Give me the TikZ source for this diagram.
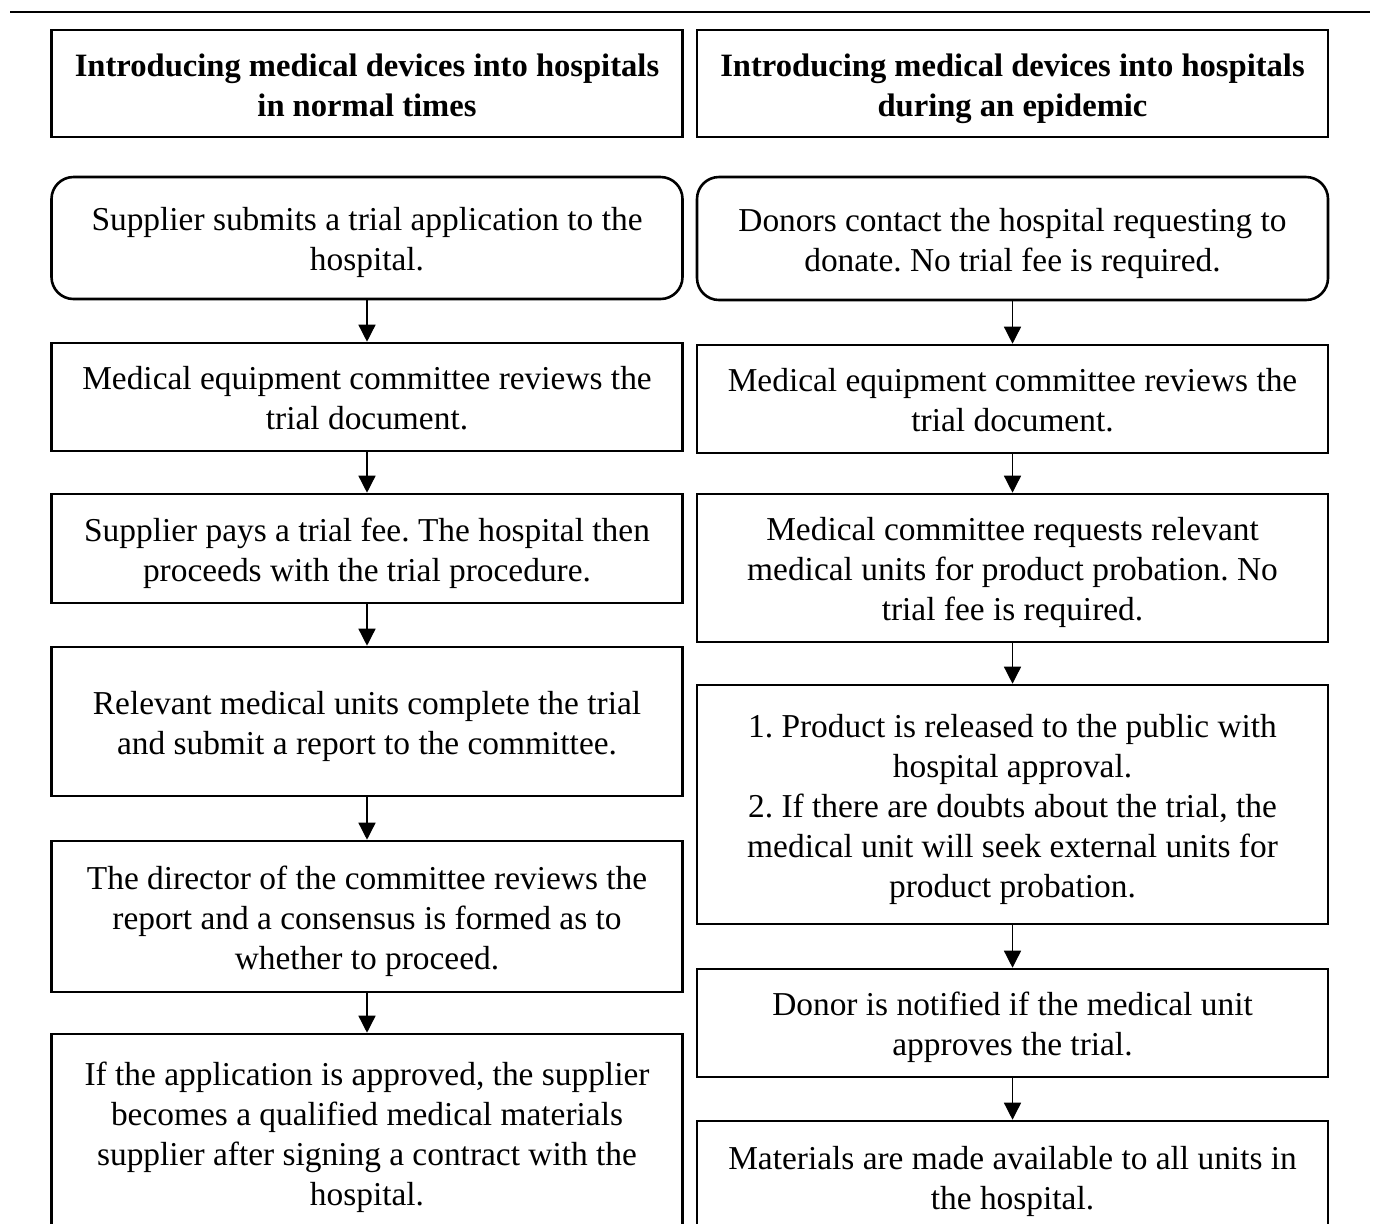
\documentclass[tikz,border=0pt]{standalone}
\usepackage{fontspec}
\setmainfont{Liberation Serif}
\usetikzlibrary{arrows.meta, positioning}
\frenchspacing

\begin{document}
\begin{tikzpicture}[
        x=0.5pt, y=-0.5pt,
        box/.style={draw, rectangle, line width=1.3pt, minimum width=315.5pt, inner xsep=7pt, inner ysep=0pt, text width=300pt, align=flush center, font=\fontsize{16.7}{20}\selectfont, execute at begin node={\rule{0pt}{18.5pt}}, execute at end node=\strut},
        headbox/.style={box, font=\fontsize{16.3}{20}\selectfont\bfseries},
        startbox/.style={box, rounded corners=11pt},
        arrow/.style={-{Triangle[length=8.5pt, width=8.5pt]}, line width=0.7pt}
    ]
        \useasboundingbox (0,0) rectangle (1374,1223);
        \clip (0,0) rectangle (1374,1223);
        % Top rule
        \coordinate (ruleL) at (10,12);
        \coordinate (ruleR) at (1370,12);
        \draw[line width=1pt] (ruleL) -- (ruleR);

        % Left column: normal times
        \node[headbox, minimum height=53.5pt] (normtitle) at (367,83.5) {Introducing medical devices into hospitals\\in normal times};
        \node[startbox, minimum height=61pt] (norm1) at (367,238) {Supplier submits a trial application to the\\hospital.};
        \node[box, minimum height=54pt] (norm2) at (367,397) {Medical equipment committee reviews the\\trial document.};
        \node[box, minimum height=54.5pt] (norm3) at (367,548.5) {Supplier pays a trial fee. The hospital then\\proceeds with the trial procedure.};
        \node[box, minimum height=74.5pt] (norm4) at (367,721.5) {Relevant medical units complete the trial\\and submit a report to the committee.};
        \node[box, minimum height=75.5pt] (norm5) at (367,916.5) {The director of the committee reviews the\\report and a consensus is formed as to\\whether to proceed.};
        \node[box, minimum height=99pt] (norm6) at (367,1133) {If the application is approved, the supplier\\becomes a qualified medical materials\\supplier after signing a contract with the\\hospital.};

        \draw[arrow] (norm1) -- (norm2);
        \draw[arrow] (norm2) -- (norm3);
        \draw[arrow] (norm3) -- (norm4);
        \draw[arrow] (norm4) -- (norm5);
        \draw[arrow] (norm5) -- (norm6);

        % Right column: epidemic
        \node[headbox, minimum height=53.5pt] (epititle) at (1012.5,83.5) {Introducing medical devices into hospitals\\during an epidemic};
        \node[startbox, minimum height=61.5pt] (epi1) at (1012.5,238.5) {Donors contact the hospital requesting to\\donate. No trial fee is required.};
        \node[box, minimum height=54pt] (epi2) at (1012.5,399) {Medical equipment committee reviews the\\trial document.};
        \node[box, minimum height=74pt] (epi3) at (1012.5,568) {Medical committee requests relevant\\medical units for product probation. No\\trial fee is required.};
        \node[box, minimum height=119.5pt] (epi4) at (1012.5,804.5) {1. Product is released to the public with\\hospital approval.\\2. If there are doubts about the trial, the\\medical unit will seek external units for\\product probation.};
        \node[box, minimum height=54pt] (epi5) at (1012.5,1023) {Donor is notified if the medical unit\\approves the trial.};
        \node[box, minimum height=55.5pt] (epi6) at (1012.5,1176.5) {Materials are made available to all units in\\the hospital.};

        \draw[arrow] (epi1) -- (epi2);
        \draw[arrow] (epi2) -- (epi3);
        \draw[arrow] (epi3) -- (epi4);
        \draw[arrow] (epi4) -- (epi5);
        \draw[arrow] (epi5) -- (epi6);
    \end{tikzpicture}
\end{document}
